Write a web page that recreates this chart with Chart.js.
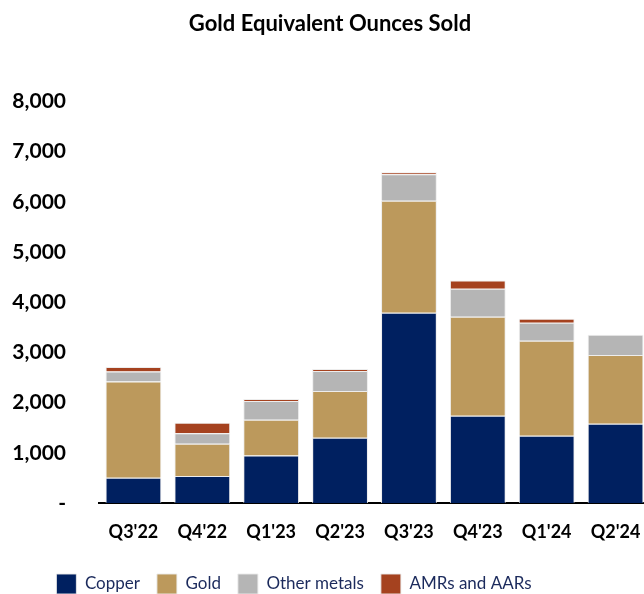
<!DOCTYPE html>
<html lang="en">
<head>
  <meta charset="UTF-8">
  <title>Gold Equivalent Ounces Sold</title>
  <script src="https://cdn.jsdelivr.net/npm/chart.js@4.4.1/dist/chart.umd.min.js"></script>
  <style>
    html, body {
      margin: 0;
      padding: 0;
      background: #fff;
      overflow: hidden;
    }

    .wrap {
      position: relative;
      width: 652px;
      height: 594px;
    }
  </style>
</head>
<body>

  <div class="wrap">
    <canvas id="goldChart"></canvas>
  </div>

  <script>
    const quarters = ["Q3'22", "Q4'22", "Q1'23", "Q2'23", "Q3'23", "Q4'23", "Q1'24", "Q2'24"];
    const copper = [505, 540, 945, 1300, 3790, 1740, 1340, 1580];
    const gold = [1915, 640, 715, 930, 2230, 1970, 1890, 1370];
    const otherMetals = [200, 210, 370, 400, 530, 560, 360, 400];
    const amrsAars = [90, 210, 40, 40, 40, 160, 80, 0];
    const yTicks = [0, 1000, 2000, 3000, 4000, 5000, 6000, 7000, 8000];

    const FONT = "Lato, 'Open Sans', sans-serif";

    // move the legend a bit left and down, like the original slide
    const legendShift = {
      id: 'legendShift',
      afterLayout(chart) {
        const lg = chart.legend;
        lg.left -= 36;
        lg.right -= 36;
        lg.top += 10;
        lg.bottom += 10;
      }
    };

    const ctx = document.getElementById('goldChart').getContext('2d');

    new Chart(ctx, {
      type: 'bar',
      data: {
        labels: quarters,
        datasets: [
          { label: 'Copper', data: copper, backgroundColor: '#002060' },
          { label: 'Gold', data: gold, backgroundColor: '#bc995c' },
          { label: 'Other metals', data: otherMetals, backgroundColor: '#b5b5b5' },
          { label: 'AMRs and AARs', data: amrsAars, backgroundColor: '#a5421f' }
        ].map(d => Object.assign(d, {
          borderColor: 'rgba(235,235,235,0.9)',
          borderWidth: 1,
          barPercentage: 0.81,
          categoryPercentage: 1
        }))
      },
      options: {
        responsive: true,
        maintainAspectRatio: false,
        animation: false,
        layout: { padding: { left: 10, right: 2, top: 0, bottom: 0 } },
        plugins: {
          title: {
            display: true,
            text: 'Gold Equivalent Ounces Sold',
            color: '#000',
            font: { family: FONT, size: 22, weight: 'bold' },
            padding: { top: 11, bottom: 64 }
          },
          legend: {
            position: 'bottom',
            labels: {
              color: '#1b2a5c',
              font: { family: FONT, size: 17 },
              boxWidth: 20,
              boxHeight: 20,
              padding: 17
            }
          },
          tooltip: { enabled: false }
        },
        scales: {
          x: {
            stacked: true,
            grid: { display: false },
            border: { display: true, color: '#000', width: 2 },
            afterFit(axis) { axis.height = 44; },
            ticks: {
              color: '#000',
              font: { family: FONT, size: 18, weight: 'bold' },
              padding: 10,
              maxRotation: 0
            }
          },
          y: {
            stacked: true,
            min: 0,
            max: 8000,
            grid: { display: false },
            border: { display: false },
            afterFit(axis) { axis.width = 89; },
            afterBuildTicks(axis) {
              axis.ticks = yTicks.map(v => ({ value: v }));
            },
            ticks: {
              color: '#000',
              font: { family: FONT, size: 21, weight: 'bold' },
              padding: 25,
              callback: v => v === 0 ? '-' : v.toLocaleString('en-US')
            }
          }
        }
      },
      plugins: [legendShift]
    });
  </script>

</body>
</html>
